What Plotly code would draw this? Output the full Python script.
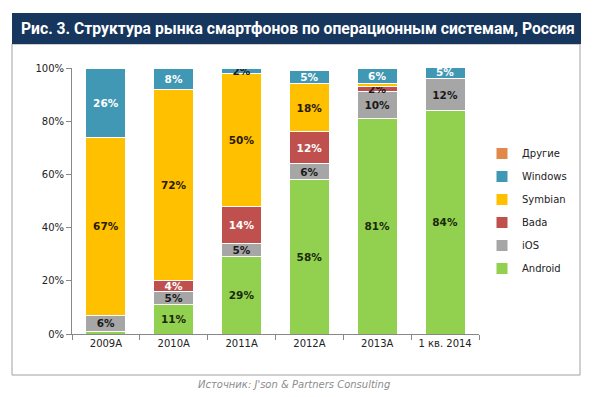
import plotly.graph_objects as go

categories = ["2009A", "2010A", "2011A", "2012A", "2013A", "1 кв. 2014"]
android = [1, 11, 29, 58, 81, 84]
ios = [6, 5, 5, 6, 10, 12]
bada = [0, 4, 14, 12, 2, 0]
symbian = [67, 72, 50, 18, 1, 0]
windows = [26, 8, 2, 5, 6, 5]
other = [0, 0, 0, 0, 0, 0]

series = [
    ("Android", android, "#92D050", "#1A2A0A"),
    ("iOS", ios, "#A6A6A6", "#1A1A1A"),
    ("Bada", bada, "#C0504D", "#FFFFFF"),
    ("Symbian", symbian, "#FFC000", "#2A1A00"),
    ("Windows", windows, "#4198B5", "#FFFFFF"),
    ("Другие", other, "#E0894A", "#1A1A1A"),
]

fig = go.Figure()
n = len(series)
for i, (name, vals, color, tcol) in enumerate(series):
    texts = [f"{v}%" if v >= 2 else "" for v in vals]
    tcols = [tcol] * len(vals)
    if name in ("Windows", "Bada"):
        tcols = ["#1A1A1A" if v < 3 else "#FFFFFF" for v in vals]
    fig.add_trace(go.Bar(
        name=name, x=categories, y=vals, text=texts,
        textposition="inside", insidetextanchor="middle", textangle=0,
        constraintext="none",
        textfont=dict(family="DejaVu Sans", size=10.5, color=tcols, weight="bold"),
        marker=dict(color=color, line=dict(color="#FFFFFF", width=1)),
        legendgroup=name, legendrank=n - i, hoverinfo="skip",
    ))

L, R, T, B = 72, 121, 68, 63
W, H = 600, 397
pw, ph = W - L - R, H - T - B

def px(x):
    return (x - L) / pw

def py(y):
    return (H - B - y) / ph

fig.update_layout(
    width=W, height=H, barmode="stack", bargap=0.41,
    margin=dict(l=L, r=R, t=T, b=B, autoexpand=False),
    paper_bgcolor="white", plot_bgcolor="white",
    font=dict(family="DejaVu Sans", size=10, color="#222222"),
    showlegend=True,
    legend=dict(x=px(482), y=py(139), xanchor="left", yanchor="top",
                traceorder="grouped", tracegroupgap=4,
                font=dict(family="DejaVu Sans", size=10, color="#222222"),
                bgcolor="rgba(0,0,0,0)"),
    xaxis=dict(showline=True, linecolor="#888888", ticks="outside",
               tickson="boundaries", tickcolor="#888888", ticklen=5,
               tickfont=dict(size=10), showgrid=False),
    yaxis=dict(range=[0, 100], tickvals=[0, 20, 40, 60, 80, 100],
               ticktext=["0%", "20%", "40%", "60%", "80%", "100%"],
               showline=True, linecolor="#888888", ticks="outside",
               tickcolor="#888888", ticklen=5, showgrid=False,
               zeroline=False, tickfont=dict(size=10)),
    shapes=[
        dict(type="rect", xref="paper", yref="paper",
             x0=px(12), x1=px(580), y0=py(375), y1=py(44),
             line=dict(color="#A0A0A0", width=1), fillcolor="rgba(0,0,0,0)", layer="below"),
        dict(type="rect", xref="paper", yref="paper",
             x0=px(12), x1=px(581), y0=py(44), y1=py(13),
             line=dict(width=0), fillcolor="#17365D", layer="below"),
    ],
    annotations=[
        dict(text="<b>Рис. 3. Структура рынка смартфонов по операционным системам, Россия</b>",
             xref="paper", yref="paper", x=px(298), y=py(28.5),
             xanchor="center", yanchor="middle", showarrow=False,
             font=dict(family="Roboto", size=15.7, color="white")),
        dict(text="<i>Источник: J'son & Partners Consulting</i>",
             xref="paper", yref="paper", x=px(294), y=py(384),
             xanchor="center", yanchor="middle", showarrow=False,
             font=dict(family="DejaVu Sans", size=10, color="#8C8C8C")),
    ],
)

fig.write_html("out.html", post_script="document.body.style.margin='0';",
               config={"displayModeBar": False})
